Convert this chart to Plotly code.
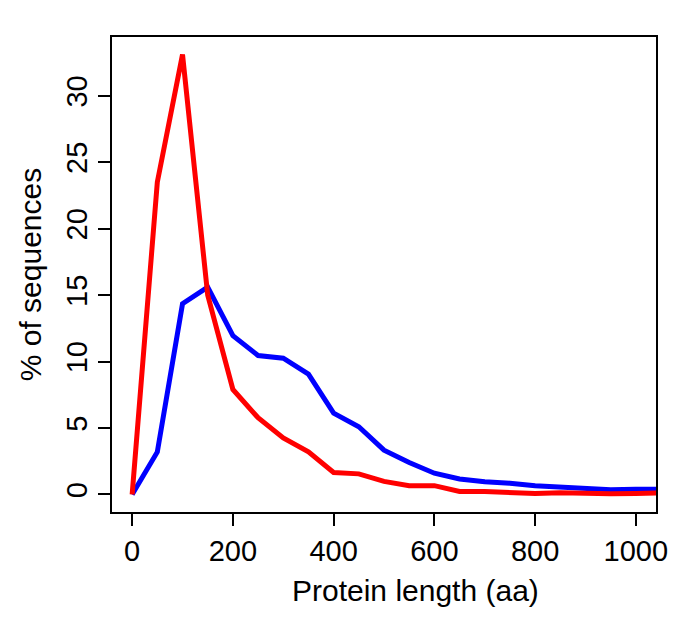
import plotly.graph_objects as go

lengths = [0, 50, 100, 150, 200, 250, 300, 350, 400, 450, 500, 550, 600, 650, 700, 750, 800, 850, 900, 950, 1000, 1050]
blue_pct = [0, 3.2, 14.35, 15.6, 11.95, 10.45, 10.25, 9.05, 6.12, 5.1, 3.33, 2.4, 1.6, 1.16, 0.95, 0.85, 0.65, 0.56, 0.48, 0.35, 0.4, 0.38]
red_pct = [0, 23.5, 33.1, 15.0, 7.9, 5.77, 4.26, 3.2, 1.65, 1.55, 0.98, 0.65, 0.66, 0.23, 0.23, 0.18, 0.07, 0.12, 0.07, 0.05, 0.07, 0.12]

x_ticks = [0, 200, 400, 600, 800, 1000]
y_ticks = [0, 5, 10, 15, 20, 25, 30]

fig = go.Figure()
fig.add_trace(go.Scatter(x=lengths, y=blue_pct, mode="lines",
                         line=dict(color="#0000FF", width=5), cliponaxis=True))
fig.add_trace(go.Scatter(x=lengths, y=red_pct, mode="lines",
                         line=dict(color="#FF0000", width=5), cliponaxis=True))

family = "Liberation Sans, Arial, Helvetica, sans-serif"
fig.update_layout(
    width=685, height=629,
    margin=dict(l=104, r=37, t=29, b=125),
    paper_bgcolor="white", plot_bgcolor="white",
    showlegend=False,
    font=dict(family=family, size=29, color="black"),
    xaxis=dict(range=[-40, 1040], tickvals=x_ticks, showgrid=False, zeroline=False,
               showline=True, linecolor="black", linewidth=1.6, mirror=True,
               ticks="outside", ticklen=12, tickwidth=1.6, tickcolor="black",
               tickfont=dict(size=29)),
    yaxis=dict(range=[-1.32, 34.42], tickvals=y_ticks, showgrid=False, zeroline=False,
               showline=True, linecolor="black", linewidth=1.6, mirror=True,
               ticks="outside", ticklen=12, tickwidth=1.6, tickcolor="black",
               tickangle=-90, tickfont=dict(size=29),
               title=dict(text="% of sequences", standoff=10, font=dict(size=30))),
    annotations=[dict(text="Protein length (aa)", xref="paper", yref="paper",
                      x=0.558, y=-0.166, xanchor="center", yanchor="middle",
                      showarrow=False, font=dict(family=family, size=30, color="black"))],
)
fig.write_html("out.html")
